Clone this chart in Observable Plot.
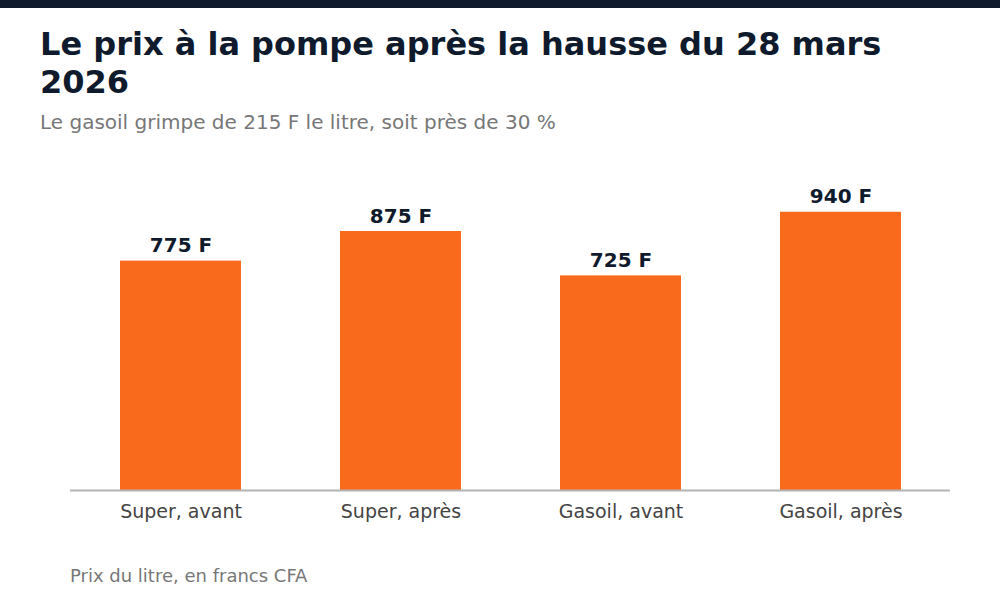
<!DOCTYPE html>
<html>
<head>
<meta charset="utf-8">
<script src="https://cdn.jsdelivr.net/npm/d3@7"></script>
<script src="https://cdn.jsdelivr.net/npm/@observablehq/plot@0.6"></script>
<style>
  html, body { margin: 0; padding: 0; background: #fff; width: 1000px; height: 600px; overflow: hidden; font-family: "DejaVu Sans", sans-serif; }
  #topbar { position: absolute; left: 0; top: 0; width: 1000px; height: 8px; background: #0f1b2d; }
  #title { position: absolute; left: 40px; top: 25px; width: 920px; font-size: 32px; font-weight: bold; line-height: 38px; color: #0f1b2d; margin: 0; }
  #subtitle { position: absolute; left: 40px; top: 110px; font-size: 20px; line-height: 24px; color: #777; }
  #chart { position: absolute; left: 0; top: 150px; }
  #caption { position: absolute; left: 70px; top: 565px; font-size: 18px; line-height: 22px; color: #777; }
</style>
</head>
<body>
<div id="topbar"></div>
<div id="title">Le prix à la pompe après la hausse du 28 mars 2026</div>
<div id="subtitle">Le gasoil grimpe de 215 F le litre, soit près de 30 %</div>
<div id="chart"></div>
<div id="caption">Prix du litre, en francs CFA</div>
<script>
const categories = ["Super, avant", "Super, après", "Gasoil, avant", "Gasoil, après"];
const prices = [775, 875, 725, 940];
const valueLabels = ["775 F", "875 F", "725 F", "940 F"];

const data = categories.map((c, i) => ({ category: c, price: prices[i], label: valueLabels[i] }));

const chart = Plot.plot({
  width: 1000,
  height: 400,
  marginLeft: 70,
  marginRight: 50,
  marginTop: 44,
  marginBottom: 60,
  style: { fontFamily: "DejaVu Sans, sans-serif", background: "transparent" },
  x: { domain: categories, paddingInner: 0.45, paddingOuter: 0.225, label: null },
  y: { domain: [0, 1000], axis: null },
  marks: [
    Plot.barY(data, { x: "category", y: "price", fill: "#fa6a1c" }),
    Plot.ruleY([0], { stroke: "#b3b3b3", strokeWidth: 2 }),
    Plot.text(data, { x: "category", y: "price", text: "label", lineAnchor: "bottom", dy: -9, fontSize: 20, fontWeight: "bold", fill: "#0f1b2d" }),
    Plot.axisX({ tickSize: 0, tickPadding: 14, fontSize: 19, color: "#444", label: null })
  ]
});
document.getElementById("chart").appendChild(chart);
</script>
</body>
</html>
